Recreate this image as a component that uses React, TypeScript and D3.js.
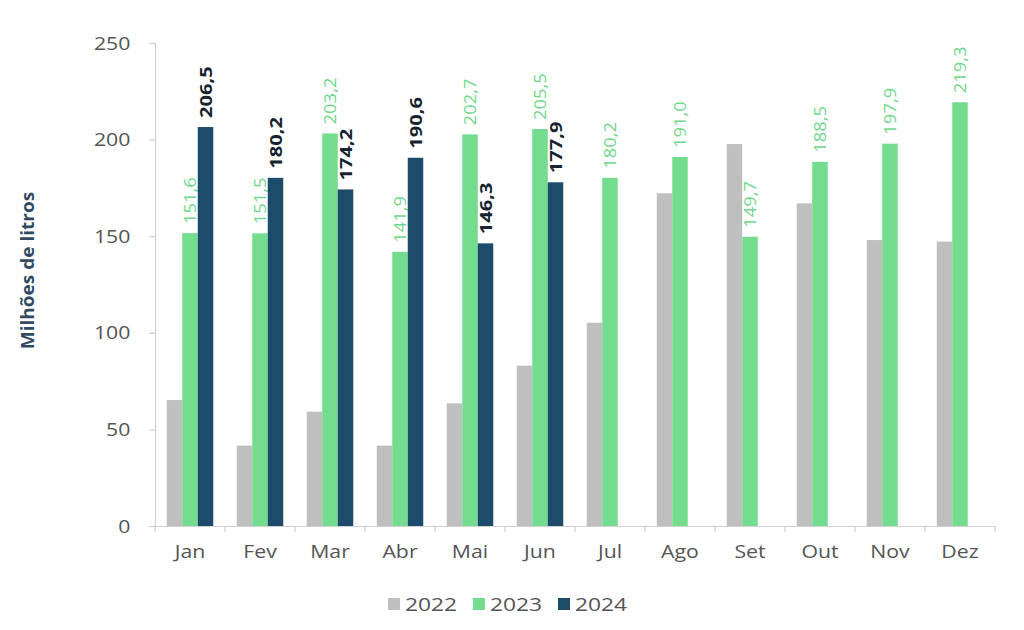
import { useEffect, useRef } from "react";
import * as d3 from "d3";

// Meses e séries (milhões de litros)
const meses = ["Jan", "Fev", "Mar", "Abr", "Mai", "Jun", "Jul", "Ago", "Set", "Out", "Nov", "Dez"];
const anos = ["2022", "2023", "2024"];
const valores2022 = [65.2, 41.6, 59.2, 41.6, 63.5, 83.0, 105.2, 172.2, 197.7, 167.0, 148.0, 147.2];
const valores2023 = [151.6, 151.5, 203.2, 141.9, 202.7, 205.5, 180.2, 191.0, 149.7, 188.5, 197.9, 219.3];
const valores2024 = [206.5, 180.2, 174.2, 190.6, 146.3, 177.9, null, null, null, null, null, null];
const ticksY = [0, 50, 100, 150, 200, 250];

const cores = ["#bfbfbf", "#74dc8f", "#1c4b6c"];

const App = () => {
  const ref = useRef<SVGSVGElement | null>(null);

  useEffect(() => {
    if (!ref.current) return;
    const svg = d3.select(ref.current);
    svg.selectAll("*").remove();

    const W = 1024;
    const H = 630;
    const margin = { top: 43, right: 29, bottom: 104, left: 155 };
    const width = W - margin.left - margin.right;
    const height = H - margin.top - margin.bottom;
    const font = "'Open Sans', sans-serif";

    const g = svg.append("g").attr("transform", `translate(${margin.left},${margin.top})`);

    const x = d3.scaleBand().domain(meses).range([0, width]).paddingInner(0).paddingOuter(0);
    const x1 = d3.scaleBand().domain(anos).range([0, 46.5]);
    const offset = (x.bandwidth() - 46.5) / 2;
    const y = d3.scaleLinear().domain([0, 250]).range([height, 0]);

    // Eixo Y
    const yAxis = g.append("g").call(d3.axisLeft(y).tickValues(ticksY).tickSize(6).tickPadding(16));
    yAxis.selectAll("path, line").attr("stroke", "#d0d0d0").attr("stroke-width", 1.2);
    yAxis.selectAll("text")
      .attr("fill", "#555")
      .attr("transform", "scale(1.12,1)")
      .style("font-family", font)
      .style("font-size", "19px");

    // Eixo X
    const xAxis = g.append("g")
      .attr("transform", `translate(0,${height})`)
      .call(d3.axisBottom(x).tickSize(0).tickPadding(19));
    xAxis.select("path").attr("stroke", "#d0d0d0").attr("stroke-width", 1.2);
    xAxis.selectAll("text")
      .attr("fill", "#555")
      .attr("transform", "scale(1.12,1)")
      .style("font-family", font)
      .style("font-size", "19px");

    // marcas entre categorias
    g.append("g")
      .selectAll("line")
      .data(d3.range(meses.length + 1))
      .enter()
      .append("line")
      .attr("x1", (i) => i * x.bandwidth())
      .attr("x2", (i) => i * x.bandwidth())
      .attr("y1", height)
      .attr("y2", height + 6)
      .attr("stroke", "#d0d0d0")
      .attr("stroke-width", 1.2);

    // Título eixo Y
    g.append("text")
      .attr("transform", `translate(${-121},${height / 2 - 14}) rotate(-90) scale(1.12,1)`)
      .attr("text-anchor", "middle")
      .style("font-family", font)
      .style("font-size", "17px")
      .style("font-weight", "700")
      .attr("fill", "#2f4b62")
      .text("Milhões de litros");

    const series = [valores2022, valores2023, valores2024];

    series.forEach((vals, si) => {
      const dados = meses
        .map((m, i) => ({ mes: m, v: vals[i] }))
        .filter((d) => d.v !== null) as { mes: string; v: number }[];

      g.append("g")
        .selectAll("rect")
        .data(dados)
        .enter()
        .append("rect")
        .attr("x", (d) => (x(d.mes) as number) + offset + (x1(anos[si]) as number))
        .attr("y", (d) => y(d.v))
        .attr("width", x1.bandwidth())
        .attr("height", (d) => height - y(d.v))
        .attr("fill", cores[si]);

      if (si === 0) return;

      // Rótulos de valor
      g.append("g")
        .selectAll("text")
        .data(dados)
        .enter()
        .append("text")
        .attr("transform", (d) => {
          const cx = (x(d.mes) as number) + offset + (x1(anos[si]) as number) + x1.bandwidth() / 2;
          return `translate(${cx + 6},${y(d.v) - 9}) rotate(-90) scale(${si === 2 ? 1.22 : 1.15},1)`;
        })
        .attr("text-anchor", "start")
        .style("font-family", font)
        .style("font-size", si === 2 ? "16.5px" : "16px")
        .style("font-weight", si === 2 ? "700" : "400")
        .attr("fill", si === 2 ? "#16222e" : "#6fd88a")
        .text((d) => d.v.toFixed(1).replace(".", ","));
    });

    // Legenda
    const legenda = svg.append("g").attr("transform", `translate(388,604)`);
    const itens = legenda.selectAll("g")
      .data(anos)
      .enter()
      .append("g")
      .attr("transform", (d, i) => `translate(${i * 85},0)`);
    itens.append("rect")
      .attr("x", 0)
      .attr("y", -6)
      .attr("width", 12)
      .attr("height", 12)
      .attr("fill", (d, i) => cores[i]);
    itens.append("text")
      .attr("transform", "translate(17,0) scale(1.2,1)")
      .attr("dy", "0.36em")
      .style("font-family", font)
      .style("font-size", "19px")
      .attr("fill", "#555")
      .text((d) => d);
  }, []);

  return (
    <svg ref={ref} width={1024} height={630} style={{ position: "absolute", left: 0, top: 0, background: "#fff" }} />
  );
};

export default App;
